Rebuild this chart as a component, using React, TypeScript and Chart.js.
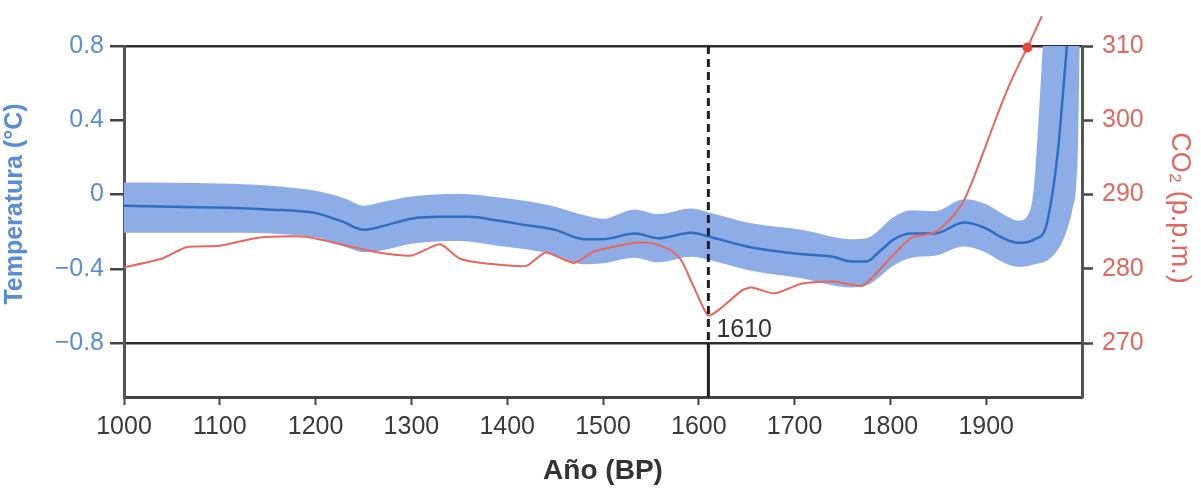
import { useEffect, useRef } from "react";
import { Chart, registerables } from "chart.js";

Chart.register(...registerables);

const FONT = "'Liberation Sans', Arial, Helvetica, sans-serif";

// Temperature anomaly (°C) – central curve
const tempYears = [1000, 1050, 1100, 1150, 1200, 1230, 1250, 1270, 1300, 1330, 1360, 1390, 1420, 1450, 1480, 1500, 1533, 1558, 1592, 1613, 1655, 1707, 1740, 1759, 1775, 1790, 1804, 1822, 1846, 1877, 1899, 1916, 1934, 1951, 1962, 1968, 1973, 1977, 1981, 1985];
const tempMean = [-0.06, -0.065, -0.07, -0.08, -0.1, -0.15, -0.19, -0.17, -0.13, -0.12, -0.12, -0.14, -0.165, -0.19, -0.24, -0.24, -0.21, -0.235, -0.205, -0.23, -0.285, -0.32, -0.335, -0.36, -0.36, -0.3, -0.24, -0.21, -0.21, -0.15, -0.18, -0.23, -0.26, -0.24, -0.18, -0.03, 0.15, 0.35, 0.6, 0.85];

// Uncertainty band – upper edge
const bandUpperYears = [1000, 1100, 1200, 1230, 1250, 1270, 1300, 1350, 1390, 1420, 1450, 1480, 1500, 1533, 1558, 1592, 1613, 1655, 1707, 1759, 1775, 1804, 1822, 1846, 1877, 1899, 1916, 1934, 1946, 1950, 1954, 1958, 1961, 1963, 2000];
const bandUpper = [0.065, 0.06, 0.02, -0.02, -0.06, -0.04, -0.01, 0.005, -0.015, -0.035, -0.065, -0.11, -0.13, -0.08, -0.105, -0.075, -0.1, -0.155, -0.19, -0.24, -0.235, -0.12, -0.085, -0.09, -0.025, -0.05, -0.1, -0.14, -0.08, 0.05, 0.35, 0.7, 1.0, 1.3, 1.3];

// Uncertainty band – lower edge
const bandLowerYears = [1000, 1100, 1200, 1230, 1250, 1270, 1300, 1350, 1390, 1420, 1450, 1480, 1500, 1533, 1558, 1592, 1613, 1655, 1707, 1759, 1775, 1804, 1822, 1846, 1877, 1899, 1916, 1934, 1951, 1965, 1978, 1985, 1990, 1994, 1996, 1997.5, 1999, 2000];
const bandLower = [-0.205, -0.205, -0.23, -0.28, -0.31, -0.3, -0.265, -0.25, -0.275, -0.295, -0.325, -0.375, -0.37, -0.34, -0.365, -0.335, -0.355, -0.41, -0.45, -0.5, -0.49, -0.38, -0.34, -0.33, -0.28, -0.31, -0.36, -0.39, -0.375, -0.35, -0.27, -0.18, -0.08, 0.05, 0.3, 0.8, 1.3, 1.3];

// CO2 (p.p.m.)
const co2Years = [1000, 1040, 1065, 1100, 1140, 1180, 1200, 1240, 1270, 1300, 1330, 1350, 1380, 1420, 1440, 1470, 1490, 1533, 1550, 1571, 1582, 1595, 1610, 1624, 1645, 1655, 1679, 1707, 1740, 1770, 1780, 1804, 1822, 1846, 1864, 1875, 1880, 1890, 1899, 1908, 1916, 1925, 1934, 1943, 1958];
const co2Values = [280.2, 281.4, 282.9, 283.1, 284.2, 284.4, 284.1, 282.9, 282.1, 281.8, 283.3, 281.4, 280.7, 280.4, 282.2, 280.8, 282.3, 283.5, 283.5, 282.5, 281.1, 277.5, 273.7, 274.8, 277.1, 277.5, 276.7, 278.0, 278.3, 277.7, 278.7, 282.0, 284.2, 284.9, 286.9, 288.8, 290.1, 293.3, 296.4, 299.5, 302.2, 305.0, 307.5, 309.8, 314.0];
const co2MarkerYear = 1943;

const xTickYears = [1000, 1100, 1200, 1300, 1400, 1500, 1600, 1700, 1800, 1900];
const tempTicks = [-0.8, -0.4, 0, 0.4, 0.8];
const co2Ticks = [270, 280, 290, 300, 310];
const markerYear = 1610;
const markerLabel = "1610";

const pts = (xs: number[], ys: number[]) => xs.map((x, i) => ({ x, y: ys[i] }));

const textPlugin = {
  id: "extraText",
  afterDraw(chart: any) {
    const { ctx, scales } = chart;
    ctx.save();
    ctx.fillStyle = "#333";
    ctx.font = `25px ${FONT}`;
    ctx.textAlign = "left";
    ctx.textBaseline = "alphabetic";
    ctx.fillText(markerLabel, scales.x.getPixelForValue(markerYear) + 8, scales.y.getPixelForValue(-0.8) - 6);
    ctx.restore();

    ctx.save();
    ctx.translate(22, 204);
    ctx.rotate(-Math.PI / 2);
    ctx.fillStyle = "#5a8dd6";
    ctx.font = `bold 25px ${FONT}`;
    ctx.textAlign = "center";
    ctx.textBaseline = "alphabetic";
    ctx.fillText("Temperatura (°C)", 0, 0);
    ctx.restore();

    ctx.save();
    ctx.translate(1172, 208);
    ctx.rotate(Math.PI / 2);
    ctx.fillStyle = "#e0685f";
    ctx.font = `27px ${FONT}`;
    ctx.textAlign = "center";
    ctx.textBaseline = "alphabetic";
    ctx.fillText("CO₂ (p.p.m.)", 0, 0);
    ctx.restore();
  },
};

export default function App() {
  const ref = useRef<HTMLCanvasElement | null>(null);

  useEffect(() => {
    if (!ref.current) return;
    const chart = new Chart(ref.current, {
      type: "line",
      data: {
        datasets: [
          {
            data: [{ x: markerYear, y: 0.8 }, { x: markerYear, y: -0.8 }],
            borderColor: "#1e1e1e",
            borderWidth: 3,
            borderDash: [8, 5],
            pointRadius: 0,
            yAxisID: "y",
            fill: false,
          },
          {
            data: [{ x: markerYear, y: -0.8 }, { x: markerYear, y: -1.09 }],
            borderColor: "#1e1e1e",
            borderWidth: 3,
            pointRadius: 0,
            yAxisID: "y",
            fill: false,
          },
          {
            data: pts(co2Years, co2Values),
            borderColor: "#e8665c",
            borderWidth: 2,
            tension: 0.2,
            yAxisID: "y1",
            fill: false,
            clip: false,
            pointRadius: co2Years.map((yr, i) => (yr === co2MarkerYear ? 5 : i === co2Years.length - 1 ? 2.5 : 0)),
            pointBackgroundColor: "#e8463c",
            pointBorderWidth: 0,
          } as any,
          {
            data: pts(tempYears, tempMean),
            borderColor: "#2f6ec4",
            borderWidth: 2.5,
            cubicInterpolationMode: "monotone",
            pointRadius: 0,
            yAxisID: "y",
            fill: false,
          },
          {
            data: pts(bandUpperYears, bandUpper),
            borderWidth: 0,
            borderColor: "rgba(0,0,0,0)",
            cubicInterpolationMode: "monotone",
            pointRadius: 0,
            yAxisID: "y",
            fill: false,
          },
          {
            data: pts(bandLowerYears, bandLower),
            borderWidth: 0,
            borderColor: "rgba(0,0,0,0)",
            backgroundColor: "#8eade6",
            cubicInterpolationMode: "monotone",
            pointRadius: 0,
            yAxisID: "y",
            fill: "-1",
          },
        ],
      },
      options: {
        animation: false,
        responsive: true,
        maintainAspectRatio: false,
        layout: { padding: { top: 46, left: 0, right: 0, bottom: 0 } },
        plugins: { legend: { display: false }, tooltip: { enabled: false } },
        scales: {
          x: {
            type: "linear",
            min: 1000,
            max: 2000,
            afterBuildTicks: (s: any) => {
              s.ticks = xTickYears.map((v) => ({ value: v }));
            },
            ticks: {
              font: { size: 25, family: FONT },
              color: "#3a3a3a",
              padding: 7,
              maxRotation: 0,
              autoSkip: false,
              callback: (v: any) => String(v),
            },
            grid: { drawOnChartArea: false, drawTicks: true, tickLength: 8, tickWidth: 2, tickColor: "#444" },
            border: { display: true, color: "#444", width: 3 },
            title: {
              display: true,
              text: "Año (BP)",
              font: { size: 28, weight: "bold", family: FONT },
              color: "#333",
              padding: { top: 0, bottom: 0 },
            },
            afterFit: (s: any) => {
              s.height = 91;
            },
          },
          y: {
            type: "linear",
            position: "left",
            min: -1.09,
            max: 0.8,
            afterBuildTicks: (s: any) => {
              s.ticks = tempTicks.map((v) => ({ value: v }));
            },
            ticks: {
              font: { size: 25, family: FONT },
              color: "#5a8dd6",
              padding: 6,
              callback: (v: any) => (v === 0 ? "0" : (v < 0 ? "\u2212" : "") + Math.abs(v).toFixed(1)),
            },
            grid: {
              drawOnChartArea: true,
              drawTicks: true,
              tickLength: 14,
              tickWidth: 2.5,
              tickColor: "#444",
              lineWidth: 2.5,
              color: (c: any) => (c.tick && Math.abs(Math.abs(c.tick.value) - 0.8) < 1e-6 ? "#2e2e2e" : "rgba(0,0,0,0)"),
            },
            border: { display: true, color: "#555", width: 3 },
            afterFit: (s: any) => {
              s.width = 124;
            },
          },
          y1: {
            type: "linear",
            position: "right",
            min: 262.75,
            max: 310,
            afterBuildTicks: (s: any) => {
              s.ticks = co2Ticks.map((v) => ({ value: v }));
            },
            ticks: {
              font: { size: 25, family: FONT },
              color: "#e0685f",
              padding: 9,
              callback: (v: any) => String(v),
            },
            grid: { drawOnChartArea: false, drawTicks: true, tickLength: 11, tickWidth: 2.5, tickColor: "#444" },
            border: { display: true, color: "#555", width: 3 },
            afterFit: (s: any) => {
              s.width = 119;
            },
          },
        },
      },
      plugins: [textPlugin],
    } as any);
    return () => chart.destroy();
  }, []);

  return (
    <div style={{ position: "absolute", left: 0, top: 0, width: 1201, height: 488, background: "#fff" }}>
      <canvas ref={ref} />
    </div>
  );
}
